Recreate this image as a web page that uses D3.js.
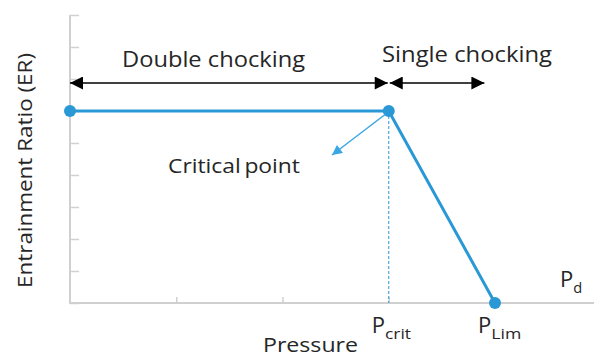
<!DOCTYPE html>
<html>
<head>
<meta charset="utf-8">
<script src="https://cdn.jsdelivr.net/npm/d3@7"></script>
<style>
  html, body { margin: 0; padding: 0; background: #fff; }
  svg { display: block; }
  text { font-family: "Open Sans", "Noto Sans", sans-serif; fill: #262626; }
</style>
</head>
<body>
<svg id="chart" width="594" height="358"></svg>
<script>
// Schematic: entrainment ratio vs discharge pressure
const pressure = [0, 3, 4];          // P0, Pcrit, PLim
const entrainment = [6, 6, 0];       // ER flat until Pcrit, then falls to 0 at PLim
const xTickValues = [0, 1, 2, 3, 4];
const yTickValues = [0, 1, 2, 3, 4, 5, 6, 7, 8, 9];
const regions = [
  { label: "Double chocking", from: 0, to: 3 },
  { label: "Single chocking", from: 3, to: 3.9 }
];
const xLabels = [
  { main: "P", sub: "crit", at: 3, subLen: 26 },
  { main: "P", sub: "Lim", at: 4, subLen: 30 }
];

const svg = d3.select("#chart");
const blue = "#2b98d6";
const axisGrey = "#d0d0d0";

const x = d3.scaleLinear().domain([0, 4]).range([70, 495]);
const y = d3.scaleLinear().domain([0, 9]).range([303, 15]);

// text helper: fixed advance width so glyphs are slightly widened
function label(sel, str, size, len) {
  return sel.append("text").attr("font-size", size)
    .attr("textLength", len).attr("lengthAdjust", "spacingAndGlyphs").text(str);
}

// markers
const defs = svg.append("defs");
defs.append("marker").attr("id", "headBlack")
  .attr("viewBox", "0 0 10 10").attr("refX", 10).attr("refY", 5)
  .attr("markerWidth", 14).attr("markerHeight", 13).attr("markerUnits", "userSpaceOnUse")
  .attr("orient", "auto-start-reverse")
  .append("path").attr("d", "M0,0 L10,5 L0,10 Z").attr("fill", "#000");
defs.append("marker").attr("id", "headBlue")
  .attr("viewBox", "0 0 10 10").attr("refX", 10).attr("refY", 5)
  .attr("markerWidth", 12).attr("markerHeight", 10).attr("markerUnits", "userSpaceOnUse")
  .attr("orient", "auto")
  .append("path").attr("d", "M0,0 L10,5 L0,10 Z").attr("fill", "#3aa6e4");

// y axis (ticks inward)
const yAxis = d3.axisRight(y).tickValues(yTickValues).tickSize(9).tickFormat("");
const gy = svg.append("g").attr("transform", `translate(${x(0)},0)`).call(yAxis);
gy.select(".domain").remove();
gy.selectAll(".tick line").attr("stroke", axisGrey).attr("stroke-width", 1.5);
svg.append("line").attr("x1", x(0)).attr("x2", x(0)).attr("y1", y(9)).attr("y2", y(0))
  .attr("stroke", axisGrey).attr("stroke-width", 2);

// x axis (ticks inward)
const xAxis = d3.axisTop(x).tickValues(xTickValues.slice(1)).tickSize(6).tickFormat("");
const gx = svg.append("g").attr("transform", `translate(0,${y(0)})`).call(xAxis);
gx.select(".domain").remove();
gx.selectAll(".tick line").attr("stroke", axisGrey).attr("stroke-width", 1.5);
svg.append("line").attr("x1", x(0) - 1).attr("x2", 594).attr("y1", y(0)).attr("y2", y(0))
  .attr("stroke", axisGrey).attr("stroke-width", 2);

// dashed guide at Pcrit
svg.append("line")
  .attr("x1", x(pressure[1])).attr("x2", x(pressure[1]))
  .attr("y1", y(entrainment[1])).attr("y2", y(0))
  .attr("stroke", blue).attr("stroke-width", 1).attr("stroke-dasharray", "3,2");

// ER curve
const pts = pressure.map((p, i) => [p, entrainment[i]]);
svg.append("path")
  .attr("d", d3.line().x(d => x(d[0])).y(d => y(d[1]))(pts))
  .attr("fill", "none").attr("stroke", blue).attr("stroke-width", 3);
svg.selectAll("circle.pt").data(pts).join("circle")
  .attr("class", "pt").attr("cx", d => x(d[0])).attr("cy", d => y(d[1]))
  .attr("r", 6).attr("fill", blue);

// region arrows
const arrowY = y(6.875);
regions.forEach((r, i) => {
  const x1 = x(r.from) + (i === 0 ? 0 : 1);
  const x2 = x(r.to) - (i === 0 ? 1 : 0);
  svg.append("line").attr("x1", x1).attr("x2", x2).attr("y1", arrowY).attr("y2", arrowY)
    .attr("stroke", "#000").attr("stroke-width", 1.5)
    .attr("marker-start", "url(#headBlack)").attr("marker-end", "url(#headBlack)");
});
label(svg, regions[0].label, 22, 183).attr("x", 122).attr("y", 67);
label(svg, regions[1].label, 22, 170).attr("x", 382).attr("y", 62);

// critical point callout
svg.append("line")
  .attr("x1", x(pressure[1]) - 3).attr("y1", y(entrainment[1]) + 3)
  .attr("x2", 332).attr("y2", 155)
  .attr("stroke", "#3aa6e4").attr("stroke-width", 1.5)
  .attr("marker-end", "url(#headBlue)");
label(svg, "Critical point", 20, 132).attr("x", 168).attr("y", 173).attr("word-spacing", -2);

// axis titles
label(svg, "Entrainment Ratio (ER)", 20, 235)
  .attr("transform", "translate(32,288) rotate(-90)");
label(svg, "Pressure", 20, 95).attr("x", 263).attr("y", 352);

// P labels
function pLabel(px, py, sub, subLen) {
  const t = svg.append("text").attr("x", px).attr("y", py).attr("font-size", 22);
  t.append("tspan").text("P");
  t.append("tspan").attr("font-size", 14).attr("dy", 6)
    .attr("textLength", subLen).attr("lengthAdjust", "spacingAndGlyphs").text(sub);
}
xLabels.forEach(l => pLabel(x(l.at) - 17, 333, l.sub, l.subLen));
pLabel(560, 287, "d", 9);
</script>
</body>
</html>
